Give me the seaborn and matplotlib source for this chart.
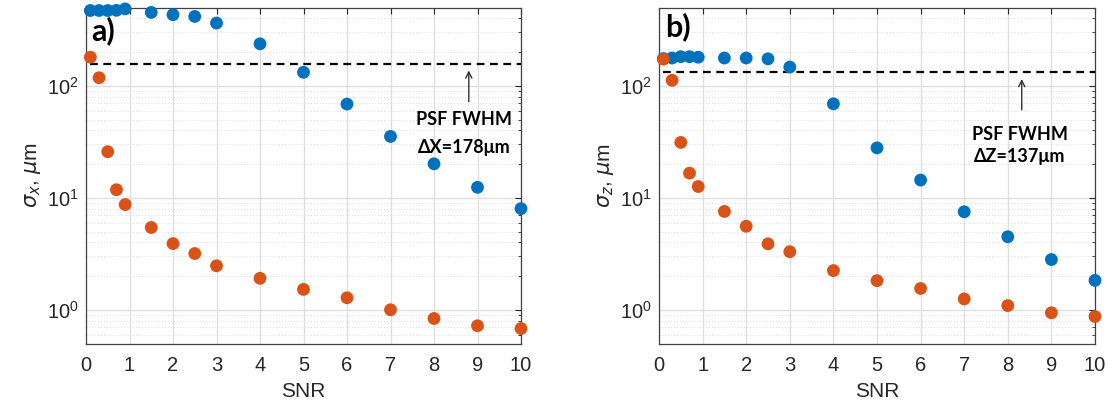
import matplotlib
matplotlib.use("Agg")
import matplotlib.pyplot as plt
import numpy as np
import pandas as pd
import seaborn as sns
from matplotlib.ticker import LogLocator, NullFormatter, FixedLocator

# ---------------- data ----------------
snr = [0.1, 0.3, 0.5, 0.7, 0.9, 1.5, 2, 2.5, 3, 4, 5, 6, 7, 8, 9, 10]

sigx_blue = [470, 470, 470, 472, 486, 452, 431, 416, 363, 237, 132, 68.7, 35.3, 20.1, 12.4, 8.0]
sigx_orange = [180, 118, 25.8, 11.8, 8.7, 5.43, 3.9, 3.18, 2.47, 1.91, 1.52, 1.28, 1.0, 0.836, 0.72, 0.68]

sigz_blue = [175, 177, 182, 182, 180, 177, 177, 174, 147, 69, 27.9, 14.4, 7.5, 4.49, 2.81, 1.83]
sigz_orange = [173, 112, 31.2, 16.6, 12.6, 7.55, 5.57, 3.88, 3.3, 2.24, 1.82, 1.55, 1.25, 1.09, 0.94, 0.87]

xticks = [0, 1, 2, 3, 4, 5, 6, 7, 8, 9, 10]
psf_line_a = 157
psf_line_b = 132
psf_text_a = ["PSF FWHM", "\u0394X=178\u03bcm"]
psf_text_b = ["PSF FWHM", "\u0394Z=137\u03bcm"]

BLUE = "#0072BD"
ORANGE = "#D95319"

sns.set_theme(style="white")
plt.rcParams['font.family'] = ['Liberation Sans', 'DejaVu Sans']
plt.rcParams['mathtext.fontset'] = 'dejavusans'

fig = plt.figure(figsize=(11.13, 4.07), dpi=100)
W, H = 1113, 407
bottom = 1 - 343.5 / H
height = (343.5 - 7.5) / H
ax_a = fig.add_axes([86 / W, bottom, 435 / W, height])
ax_b = fig.add_axes([659 / W, bottom, 436 / W, height])


def panel(ax, blue, orange, ylabel, line_val, arrow_x, arrow_base, arrow_tip,
          text_x, text_y1, text_y2, texts, letter, letter_x, letter_y):
    n = len(snr)
    df = pd.DataFrame({
        "SNR": snr + snr,
        "sigma": blue + orange,
        "series": ["blue"] * n + ["orange"] * n,
    })
    ax.set_yscale("log")
    sns.scatterplot(data=df, x="SNR", y="sigma", hue="series",
                    palette={"blue": BLUE, "orange": ORANGE},
                    s=85, edgecolor="none", linewidth=0, legend=False,
                    ax=ax, zorder=3, clip_on=False)
    ax.set_xlim(0, 10)
    ax.set_ylim(0.5, 500)
    ax.xaxis.set_major_locator(FixedLocator(xticks))
    ax.yaxis.set_major_locator(LogLocator(base=10, numticks=10))
    ax.yaxis.set_minor_locator(LogLocator(base=10, subs=np.arange(2, 10), numticks=20))
    ax.yaxis.set_minor_formatter(NullFormatter())

    ax.set_axisbelow(True)
    ax.grid(True, which="major", axis="both", color="#dedede", lw=0.9, ls="-")
    ax.grid(True, which="minor", axis="y", color="#dddddd", lw=0.7, ls=(0, (1, 2)))

    ax.tick_params(which="both", direction="in", top=True, right=True,
                   colors="#262626", labelcolor="#262626", labelsize=14.5)
    ax.tick_params(which="major", length=4, width=0.8)
    ax.tick_params(which="minor", length=2.5, width=0.6)
    ax.tick_params(axis="x", which="major", pad=9)
    ax.tick_params(axis="y", which="major", pad=5)
    for sp in ax.spines.values():
        sp.set_color("#404040")
        sp.set_linewidth(0.9)

    ax.set_xlabel("SNR", fontsize=15, color="#262626", labelpad=5)
    ax.set_ylabel(ylabel, fontsize=15, color="#262626", labelpad=3)

    ax.axhline(line_val, xmin=0.01, xmax=1.0, color="black", lw=1.6,
               ls=(0, (3.5, 2.5)), zorder=2)
    ax.annotate("", xy=(arrow_x, arrow_tip), xytext=(arrow_x, arrow_base),
                arrowprops=dict(arrowstyle="->", color="#303030", lw=1.0,
                                mutation_scale=11, shrinkA=0, shrinkB=0))
    ax.text(text_x, text_y1, texts[0], ha="center", va="center", fontsize=13,
            fontweight="bold", family=["Lato", "DejaVu Sans"], color="black")
    ax.text(text_x, text_y2, texts[1], ha="center", va="center", fontsize=13,
            fontweight="bold", family=["Lato", "DejaVu Sans"], color="black")
    ax.text(letter_x, letter_y, letter, transform=ax.transAxes, ha="left", va="top",
            fontsize=22, fontweight="bold", family=["Lato", "DejaVu Sans"], color="black",
            zorder=5)


panel(ax_a, sigx_blue, sigx_orange, r"$\sigma_{x}$, $\mu$m", psf_line_a,
      8.8, 72, 137, 8.69, 49.8, 28.0, psf_text_a, "a)", 0.012, 0.975)
panel(ax_b, sigz_blue, sigz_orange, r"$\sigma_{z}$, $\mu$m", psf_line_b,
      8.32, 61, 115, 8.28, 36.6, 23.5, psf_text_b, "b)", 0.015, 0.985)

fig.savefig("out.png", dpi=100)
